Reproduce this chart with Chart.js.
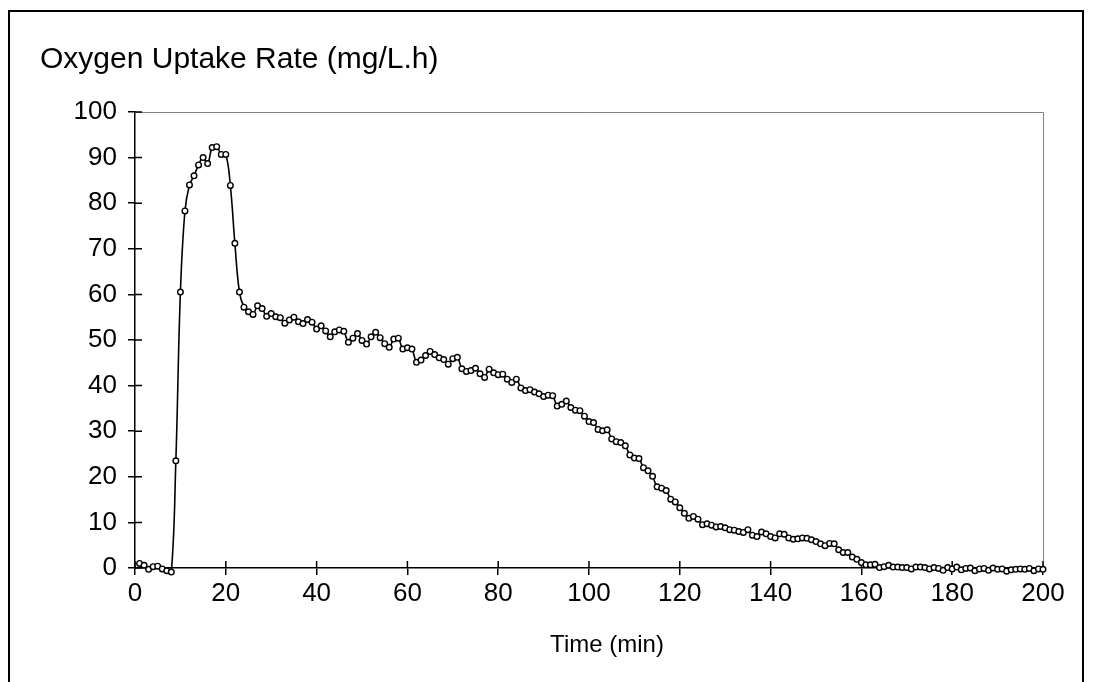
<!DOCTYPE html>
<html>
<head>
<meta charset="utf-8">
<script src="https://cdn.jsdelivr.net/npm/chart.js@4/dist/chart.umd.min.js"></script>
<style>
  html, body { margin: 0; padding: 0; background: #fff; overflow: hidden; }
  #wrap { position: relative; width: 1094px; height: 682px; }
  #frame { position: absolute; left: 8px; top: 10px; width: 1076px; height: 700px; border: 2px solid #000; box-sizing: border-box; }
  canvas { position: absolute; left: 0; top: 0; }
</style>
</head>
<body>
<div id="wrap">
  <div id="frame"></div>
  <canvas id="myChart" width="1094" height="682"></canvas>
</div>
<script>
// oxygen uptake rate, one reading per minute
const uptake = [
  1.0, 0.6, -0.3, 0.3, 0.4, -0.2, -0.6, -0.9, 23.5, 60.5,
  78.3, 84, 86, 88.4, 90, 88.7, 92.2, 92.4, 90.7, 90.7,
  83.9, 71.2, 60.5, 57.2, 56.2, 55.6, 57.5, 56.9, 55.2, 55.8,
  55.1, 54.9, 53.7, 54.4, 55, 54, 53.6, 54.5, 53.9, 52.4,
  53.1, 52, 50.7, 51.8, 52.2, 51.9, 49.5, 50.4, 51.4, 49.9,
  49.1, 50.7, 51.7, 50.5, 49.2, 48.4, 50.2, 50.4, 48, 48.3,
  48, 45.1, 45.6, 46.6, 47.5, 46.8, 46.1, 45.7, 44.7, 45.9,
  46.2, 43.7, 43.1, 43.3, 43.8, 42.6, 41.8, 43.6, 42.8, 42.4,
  42.5, 41.4, 40.7, 41.4, 39.5, 38.9, 39.1, 38.6, 38.2, 37.6,
  37.9, 37.8, 35.5, 35.9, 36.6, 35.2, 34.6, 34.5, 33.3, 32.1,
  31.9, 30.4, 30.1, 30.3, 28.3, 27.7, 27.5, 26.8, 24.8, 24.1,
  24, 22, 21.3, 20.1, 17.8, 17.5, 17, 15.1, 14.5, 13.2,
  12, 10.9, 11.3, 10.7, 9.5, 9.7, 9.4, 9, 9.1, 8.8,
  8.4, 8.3, 8, 7.8, 8.4, 7.2, 6.9, 7.9, 7.5, 6.9,
  6.6, 7.5, 7.4, 6.6, 6.3, 6.4, 6.6, 6.5, 6.2, 5.8,
  5.3, 4.9, 5.4, 5.3, 4.0, 3.4, 3.4, 2.4, 1.9, 1.2,
  0.7, 0.7, 0.8, 0.1, 0.3, 0.6, 0.2, 0.2, 0.1, 0.1,
  -0.2, 0.2, 0.2, 0.1, -0.2, 0.1, -0.1, -0.5, 0.1, -0.2,
  0.2, -0.4, -0.1, 0, -0.6, -0.2, -0.1, -0.5, 0, -0.3,
  -0.2, -0.7, -0.4, -0.3, -0.2, -0.3, -0.1, -0.6, -0.2, -0.3
];
const minutes = uptake.map((v, i) => i + 1);
const xTicks = [0, 20, 40, 60, 80, 100, 120, 140, 160, 180, 200];
const yTicks = [0, 10, 20, 30, 40, 50, 60, 70, 80, 90, 100];
const xTitle = 'Time (min)';

const font = 'Liberation Sans, Arial, sans-serif';
const ctx = document.getElementById('myChart');

// grey top/right edge of the plot, the inner half of the tick marks, the x title
const plotFrame = {
  id: 'plotFrame',
  beforeDatasetsDraw(chart) {
    const { ctx, chartArea: a, scales: { x, y } } = chart;
    ctx.save();
    ctx.strokeStyle = '#808080';
    ctx.lineWidth = 1;
    ctx.beginPath();
    ctx.moveTo(a.left, a.top + 0.5);
    ctx.lineTo(a.right + 0.5, a.top + 0.5);
    ctx.lineTo(a.right + 0.5, a.bottom);
    ctx.stroke();
    ctx.strokeStyle = '#000';
    ctx.lineWidth = 1.5;
    ctx.beginPath();
    xTicks.forEach(v => {
      const px = x.getPixelForValue(v);
      ctx.moveTo(px, a.bottom);
      ctx.lineTo(px, a.bottom - 7);
    });
    yTicks.forEach(v => {
      const py = y.getPixelForValue(v);
      ctx.moveTo(a.left, py);
      ctx.lineTo(a.left + 7, py);
    });
    ctx.stroke();
    ctx.fillStyle = '#000';
    ctx.font = '24px ' + font;
    ctx.textAlign = 'center';
    ctx.textBaseline = 'middle';
    ctx.fillText(xTitle, (a.left + a.right) / 2 + 18, 645);
    ctx.restore();
  }
};

new Chart(ctx, {
  type: 'line',
  data: {
    labels: minutes,
    datasets: [{
      label: 'Oxygen Uptake Rate',
      data: minutes.map((m, i) => ({ x: m, y: uptake[i] })),
      borderColor: '#000',
      borderWidth: 1.6,
      tension: 0.4,
      pointRadius: 2.8,
      pointBorderWidth: 1.4,
      pointBackgroundColor: '#fff',
      pointBorderColor: '#000',
      clip: false
    }]
  },
  options: {
    responsive: false,
    animation: false,
    layout: { padding: { left: 40, right: 51, top: 0, bottom: 0 } },
    plugins: {
      legend: { display: false },
      tooltip: { enabled: false },
      title: {
        display: true,
        text: 'Oxygen Uptake Rate (mg/L.h)',
        align: 'start',
        color: '#000',
        font: { family: font, size: 30, weight: 'normal' },
        padding: { top: 42, bottom: 34 }
      }
    },
    scales: {
      x: {
        type: 'linear',
        min: 0,
        max: 200,
        afterBuildTicks: s => { s.ticks = xTicks.map(v => ({ value: v })); },
        afterFit: s => { s.height = 114; },
        border: { color: '#000', width: 1.5 },
        grid: { drawOnChartArea: false, color: '#000', lineWidth: 1.5, tickLength: 7 },
        ticks: { color: '#000', padding: 3, maxRotation: 0, font: { family: font, size: 26 } }
      },
      y: {
        min: 0,
        max: 100,
        afterBuildTicks: s => { s.ticks = yTicks.map(v => ({ value: v })); },
        afterFit: s => { s.width = 95; },
        border: { color: '#000', width: 1.5 },
        grid: { drawOnChartArea: false, color: '#000', lineWidth: 1.5, tickLength: 7 },
        ticks: { color: '#000', padding: 11, font: { family: font, size: 26 } }
      }
    }
  },
  plugins: [plotFrame]
});
</script>
</body>
</html>
